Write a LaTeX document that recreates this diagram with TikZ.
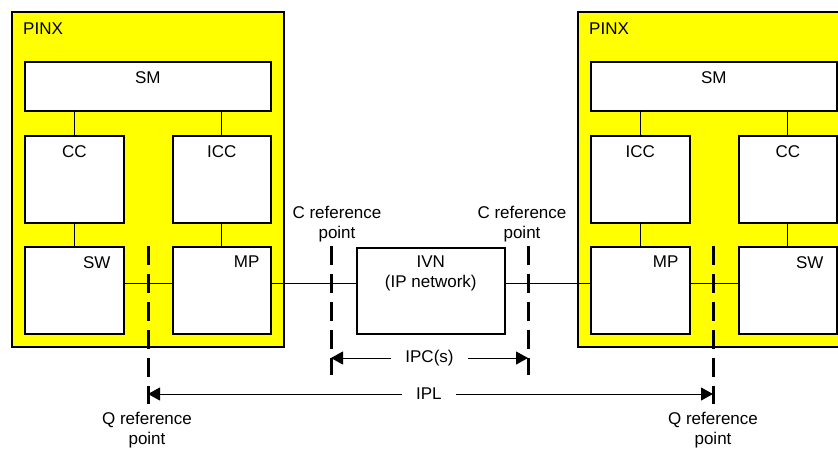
\documentclass[tikz,border=0pt]{standalone}
\usepackage{fontspec}
\setmainfont{Liberation Sans}
\usetikzlibrary{positioning,arrows.meta}
\definecolor{pinxyellow}{RGB}{255,255,0}
\begin{document}
\begin{tikzpicture}[x=1pt,y=-1pt,>={Triangle[length=12pt,width=13pt]},line join=miter,font=\fontsize{17}{20}\selectfont,
	pinx/.style={draw,fill=pinxyellow,line width=2pt,anchor=north west,inner sep=0pt,minimum width=272pt,minimum height=335pt},
	blk/.style={draw,fill=white,line width=1.6pt,anchor=north west,inner sep=0pt,minimum height=87pt},
	tag/.style={inner sep=0pt,anchor=north},
	link/.style={line width=0.9pt},
	refline/.style={line width=3pt,dash pattern=on 19pt off 9pt},
	dim/.style={line width=1pt,<->}]
	\useasboundingbox (0,0) rectangle (838,451);
	\clip (0,0) rectangle (838,451);
	\def\linky{283}
	%
	% left PINX
	\node[pinx] (pinxL) at (11,11) {};
	\node[inner sep=0pt,anchor=west] (pinxLt) at (23,29) {PINX};
	\node[blk,minimum width=246pt,minimum height=49pt] (smL) at (24,61) {};
	\node[blk,minimum width=99pt] (ccL) at (24,135) {};
	\node[blk,minimum width=98pt] (iccL) at (172,135) {};
	\node[blk,minimum width=99pt] (swL) at (24,246) {};
	\node[blk,minimum width=98pt] (mpL) at (172,246) {};
	\node[tag] (smLt) at ([yshift=-10pt]smL.north) {SM};
	\node[tag] (ccLt) at ([yshift=-10pt]ccL.north) {CC};
	\node[tag] (iccLt) at ([yshift=-10pt]iccL.north) {ICC};
	\node[tag,anchor=north east] (swLt) at ([xshift=-14pt,yshift=-10pt]swL.north east) {SW};
	\node[tag,anchor=north east] (mpLt) at ([xshift=-12pt,yshift=-10pt]mpL.north east) {MP};
	\draw[link] (smL.south -| ccL.north) -- (ccL.north)
	(smL.south -| iccL.north) -- (iccL.north)
	(ccL.south) -- (swL.north)
	(iccL.south) -- (mpL.north)
	(swL.east |- 0,\linky) -- (mpL.west |- 0,\linky);
	%
	% right PINX
	\node[pinx] (pinxR) at (577,11) {};
	\node[inner sep=0pt,anchor=west] (pinxRt) at (589,29) {PINX};
	\node[blk,minimum width=246pt,minimum height=49pt] (smR) at (590,61) {};
	\node[blk,minimum width=99pt] (iccR) at (590,135) {};
	\node[blk,minimum width=98pt] (ccR) at (738,135) {};
	\node[blk,minimum width=99pt] (mpR) at (590,246) {};
	\node[blk,minimum width=98pt] (swR) at (738,246) {};
	\node[tag] (smRt) at ([yshift=-10pt]smR.north) {SM};
	\node[tag] (iccRt) at ([yshift=-10pt]iccR.north) {ICC};
	\node[tag] (ccRt) at ([yshift=-10pt]ccR.north) {CC};
	\node[tag,anchor=north east] (mpRt) at ([xshift=-12pt,yshift=-10pt]mpR.north east) {MP};
	\node[tag,anchor=north east] (swRt) at ([xshift=-14pt,yshift=-10pt]swR.north east) {SW};
	\draw[link] (smR.south -| iccR.north) -- (iccR.north)
	(smR.south -| ccR.north) -- (ccR.north)
	(iccR.south) -- (mpR.north)
	(ccR.south) -- (swR.north)
	(mpR.east |- 0,\linky) -- (swR.west |- 0,\linky);
	%
	% IP network
	\node[blk,minimum width=148pt,minimum height=86pt] (ivn) at (356,247) {};
	\node[tag,align=center] (ivnt) at ([yshift=-9pt]ivn.north) {IVN\\(IP network)};
	\draw[link] (mpL.east |- 0,\linky) -- (ivn.west |- 0,\linky)
	(ivn.east |- 0,\linky) -- (mpR.west |- 0,\linky);
	%
	% reference points
	\coordinate (qL) at (148,246);
	\coordinate (qLb) at (148,404);
	\coordinate (qR) at (713,246);
	\coordinate (qRb) at (713,404);
	\coordinate (cL) at (331,246);
	\coordinate (cLb) at (331,375);
	\coordinate (cR) at (528,246);
	\coordinate (cRb) at (528,375);
	\draw[refline] (qL) -- (qLb) (qR) -- (qRb) (cL) -- (cLb) (cR) -- (cRb);
	\node[align=center,inner sep=0pt,anchor=south] (cLt) at (337,242) {C reference\\point};
	\node[align=center,inner sep=0pt,anchor=south] (cRt) at (522,242) {C reference\\point};
	\node[align=center,inner sep=0pt,anchor=north] (qLt) at (147,412) {Q reference\\point};
	\node[align=center,inner sep=0pt,anchor=north] (qRt) at (713,412) {Q reference\\point};
	%
	\draw[dim] (cL |- 0,358) -- (cR |- 0,358) node[midway,fill=white,inner xsep=14pt,inner ysep=2pt] (ipc) {IPC(s)};
	\draw[dim] (qL |- 0,394) -- (qR |- 0,394) node[pos=0.497,fill=white,inner xsep=14pt,inner ysep=2pt] (ipl) {IPL};
\end{tikzpicture}
\end{document}
